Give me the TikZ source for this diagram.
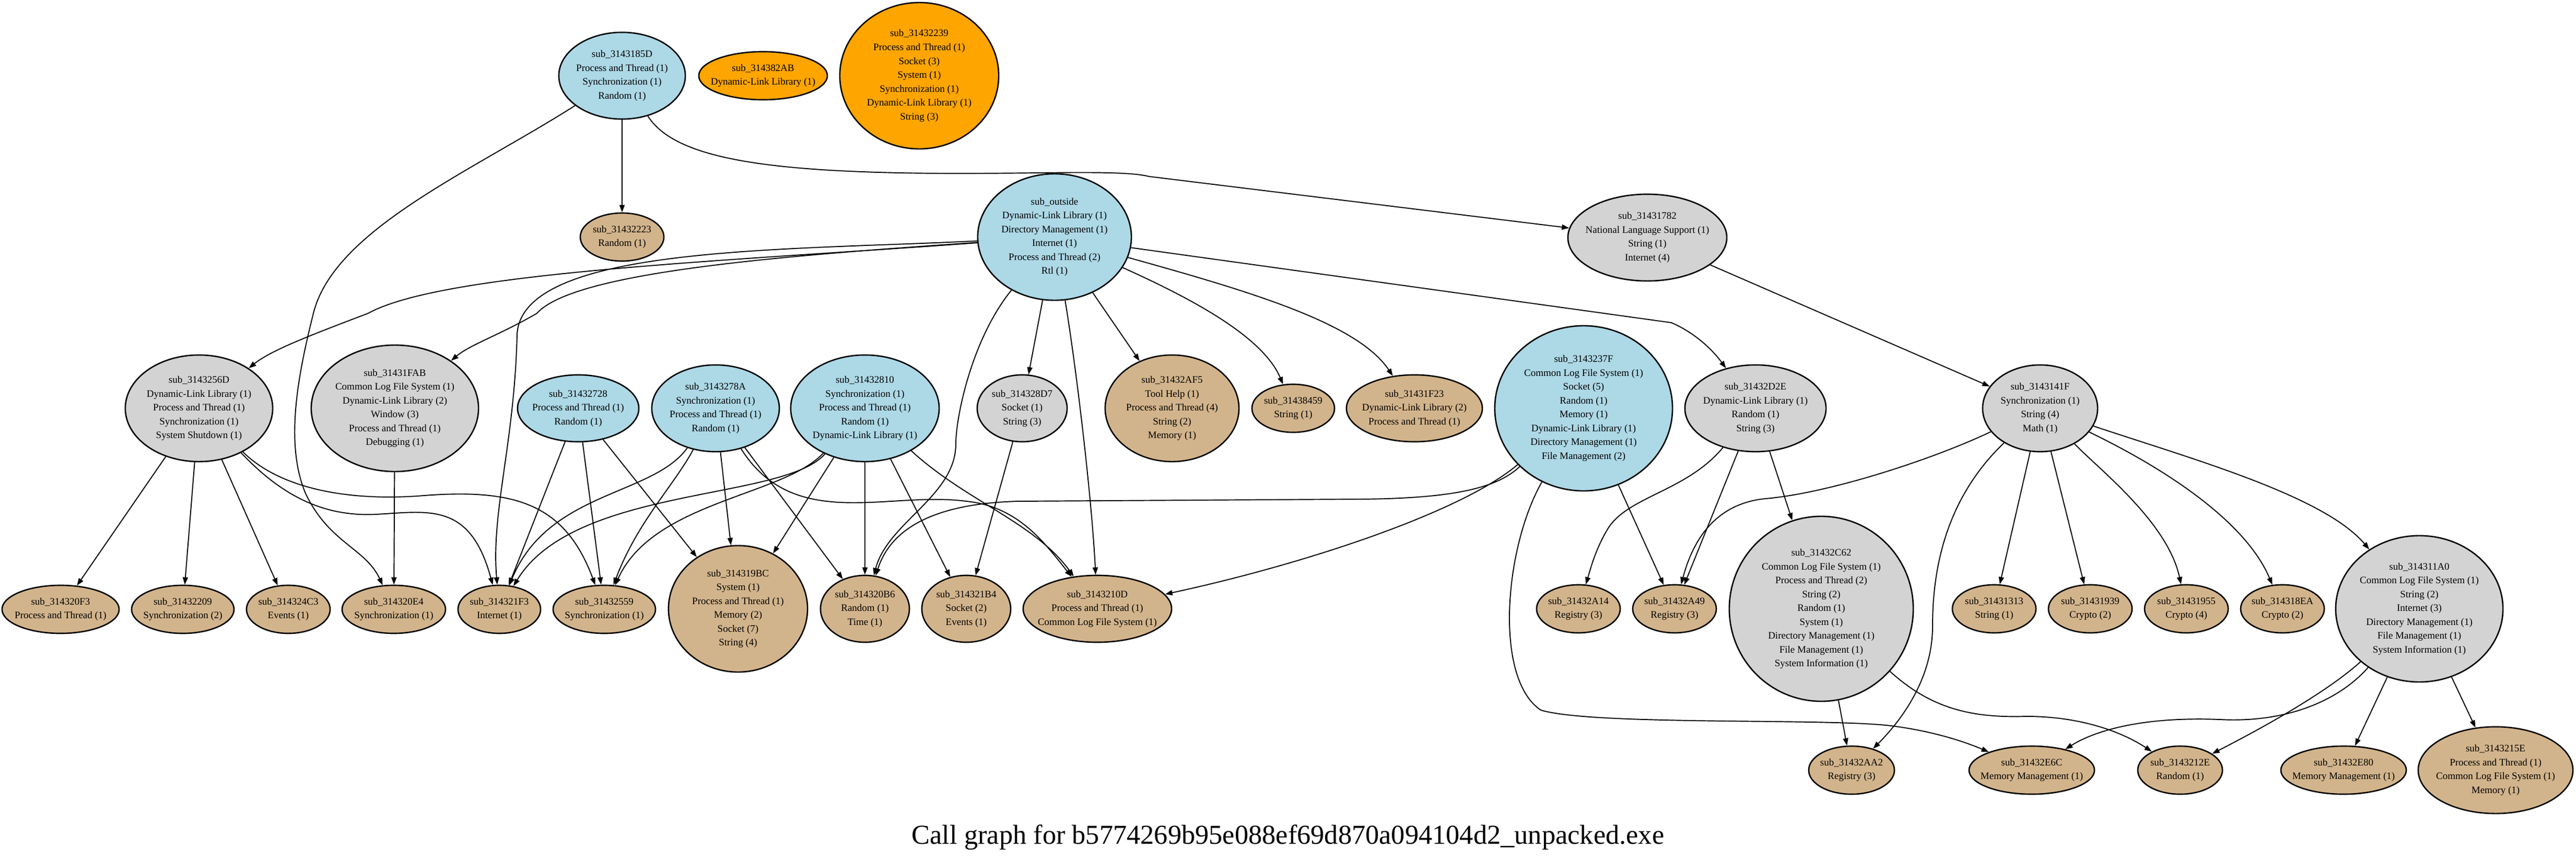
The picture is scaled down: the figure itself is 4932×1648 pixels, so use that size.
\documentclass[tikz,border=0pt]{standalone}
\usepackage{fontspec}
\setmainfont{Liberation Serif}
\usetikzlibrary{shapes.geometric,arrows.meta}
\definecolor{cblue}{HTML}{ADD8E6}
\definecolor{cgray}{HTML}{D3D3D3}
\definecolor{ctan}{HTML}{D2B48C}
\definecolor{corange}{HTML}{FFA500}
\tikzset{
 gn/.style={ellipse, draw=black, line width=0.75pt, inner sep=0pt},
 lbl/.style={align=center, inner sep=0pt, font=\fontsize{5.4pt}{7.54pt}\selectfont},
 cx/.style={draw=black, line width=0.55pt, -{Triangle[length=0.14cm,width=0.1cm]}},
}
\newcommand\gnode[7]{\node[gn,fill=#6,minimum width=#4*0.02cm,minimum height=#5*0.02cm,label={[lbl]center:{#7}}] (#1) at (#2,#3) {};}
\begin{document}
\begin{tikzpicture}[x=0.01cm,y=-0.01cm]
\useasboundingbox (0,0) rectangle (4932,1648);
\fill[white] (0,0) rectangle (4932,1648);
% top row
\gnode{n185D}{1191}{145}{121}{83}{cblue}{sub\_3143185D\\Process and Thread (1)\\Synchronization (1)\\Random (1)}
\gnode{n82AB}{1461}{145}{123}{46}{corange}{sub\_314382AB\\Dynamic-Link Library (1)}
\gnode{n2239}{1760}{145}{152}{140}{corange}{sub\_31432239\\Process and Thread (1)\\Socket (3)\\System (1)\\Synchronization (1)\\Dynamic-Link Library (1)\\String (3)}
\gnode{n2223}{1191}{454}{80}{46}{ctan}{sub\_31432223\\Random (1)}
\gnode{nout}{2019}{454}{147}{121}{cblue}{sub\_outside\\Dynamic-Link Library (1)\\Directory Management (1)\\Internet (1)\\Process and Thread (2)\\Rtl (1)}
\gnode{n1782}{3154}{455}{152}{83}{cgray}{sub\_31431782\\National Language Support (1)\\String (1)\\Internet (4)}
% middle row
\gnode{n256D}{381}{782}{141}{102}{cgray}{sub\_3143256D\\Dynamic-Link Library (1)\\Process and Thread (1)\\Synchronization (1)\\System Shutdown (1)}
\gnode{nFAB}{756}{782}{160}{121}{cgray}{sub\_31431FAB\\Common Log File System (1)\\Dynamic-Link Library (2)\\Window (3)\\Process and Thread (1)\\Debugging (1)}
\gnode{n2728}{1107}{782}{116}{64}{cblue}{sub\_31432728\\Process and Thread (1)\\Random (1)}
\gnode{n278A}{1370}{782}{122}{83}{cblue}{sub\_3143278A\\Synchronization (1)\\Process and Thread (1)\\Random (1)}
\gnode{n2810}{1656}{782}{142}{102}{cblue}{sub\_31432810\\Synchronization (1)\\Process and Thread (1)\\Random (1)\\Dynamic-Link Library (1)}
\gnode{n28D7}{1957}{782}{86}{64}{cgray}{sub\_314328D7\\Socket (1)\\String (3)}
\gnode{nAF5}{2244}{782}{128}{102}{ctan}{sub\_31432AF5\\Tool Help (1)\\Process and Thread (4)\\String (2)\\Memory (1)}
\gnode{n8459}{2476}{782}{79}{46}{ctan}{sub\_31438459\\String (1)}
\gnode{nF23}{2708}{782}{130}{64}{ctan}{sub\_31431F23\\Dynamic-Link Library (2)\\Process and Thread (1)}
\gnode{n237F}{3032}{782}{170}{158}{cblue}{sub\_3143237F\\Common Log File System (1)\\Socket (5)\\Random (1)\\Memory (1)\\Dynamic-Link Library (1)\\Directory Management (1)\\File Management (2)}
\gnode{nD2E}{3361}{782}{135}{83}{cgray}{sub\_31432D2E\\Dynamic-Link Library (1)\\Random (1)\\String (3)}
\gnode{n141F}{3906}{782}{110}{83}{cgray}{sub\_3143141F\\Synchronization (1)\\String (4)\\Math (1)}
% lower row
\gnode{n20F3}{116}{1167}{112}{46}{ctan}{sub\_314320F3\\Process and Thread (1)}
\gnode{n2209}{350}{1167}{98}{46}{ctan}{sub\_31432209\\Synchronization (2)}
\gnode{n24C3}{552}{1167}{80}{46}{ctan}{sub\_314324C3\\Events (1)}
\gnode{n20E4}{754}{1167}{99}{46}{ctan}{sub\_314320E4\\Synchronization (1)}
\gnode{n21F3}{956}{1167}{79}{46}{ctan}{sub\_314321F3\\Internet (1)}
\gnode{n2559}{1157}{1167}{98}{46}{ctan}{sub\_31432559\\Synchronization (1)}
\gnode{n19BC}{1413}{1166}{133}{121}{ctan}{sub\_314319BC\\System (1)\\Process and Thread (1)\\Memory (2)\\Socket (7)\\String (4)}
\gnode{n20B6}{1656}{1166}{85}{64}{ctan}{sub\_314320B6\\Random (1)\\Time (1)}
\gnode{n21B4}{1850}{1166}{85}{64}{ctan}{sub\_314321B4\\Socket (2)\\Events (1)}
\gnode{n210D}{2101}{1166}{142}{64}{ctan}{sub\_3143210D\\Process and Thread (1)\\Common Log File System (1)}
\gnode{nA14}{3022}{1166}{80}{46}{ctan}{sub\_31432A14\\Registry (3)}
\gnode{nA49}{3206}{1166}{80}{46}{ctan}{sub\_31432A49\\Registry (3)}
\gnode{nC62}{3487}{1166}{176}{177}{cgray}{sub\_31432C62\\Common Log File System (1)\\Process and Thread (2)\\String (2)\\Random (1)\\System (1)\\Directory Management (1)\\File Management (1)\\System Information (1)}
\gnode{n1313}{3818}{1166}{80}{46}{ctan}{sub\_31431313\\String (1)}
\gnode{n1939}{4002}{1166}{80}{46}{ctan}{sub\_31431939\\Crypto (2)}
\gnode{n1955}{4186}{1166}{80}{46}{ctan}{sub\_31431955\\Crypto (4)}
\gnode{n18EA}{4370}{1166}{80}{46}{ctan}{sub\_314318EA\\Crypto (2)}
\gnode{n11A0}{4632}{1166}{160}{140}{cgray}{sub\_314311A0\\Common Log File System (1)\\String (2)\\Internet (3)\\Directory Management (1)\\File Management (1)\\System Information (1)}
% bottom row
\gnode{nAA2}{3545}{1475}{82}{46}{ctan}{sub\_31432AA2\\Registry (3)}
\gnode{nE6C}{3890}{1475}{120}{46}{ctan}{sub\_31432E6C\\Memory Management (1)}
\gnode{n212E}{4174}{1475}{81}{46}{ctan}{sub\_3143212E\\Random (1)}
\gnode{nE80}{4487}{1475}{120}{46}{ctan}{sub\_31432E80\\Memory Management (1)}
\gnode{n215E}{4778}{1475}{148}{83}{ctan}{sub\_3143215E\\Process and Thread (1)\\Common Log File System (1)\\Memory (1)}
% title
\node (title) at (2466,1604) {\fontsize{14.9pt}{18pt}\selectfont Call graph for b5774269b95e088ef69d870a094104d2\_unpacked.exe};
% edges from 3143185D
\draw[cx] (n185D) -- (n2223);
\draw[cx] (n185D) .. controls (1290,300) and (1450,330) .. (1800,332) .. controls (2000,333) and (2150,325) .. (2200,338) -- (n1782);
\draw[cx] (n185D) .. controls (900,330) and (640,440) .. (600,600) .. controls (570,720) and (545,850) .. (585,945) .. controls (630,1040) and (700,1050) .. (n20E4);
% edges from sub_outside
\draw[cx] (nout) .. controls (1400,500) and (850,520) .. (705,600) .. controls (600,640) and (520,670) .. (n256D);
\draw[cx] (nout) .. controls (1500,490) and (1100,520) .. (1028,600) .. controls (960,640) and (900,660) .. (nFAB);
\draw[cx] (nout) .. controls (1500,480) and (1000,470) .. (990,640) .. controls (985,850) and (940,980) .. (n21F3);
\draw[cx] (nout) -- (n28D7);
\draw[cx] (nout) -- (nAF5);
\draw[cx] (nout) .. controls (2300,580) and (2420,650) .. (n8459);
\draw[cx] (nout) .. controls (2400,560) and (2600,620) .. (nF23);
\draw[cx] (nout) -- (3200,618) .. controls (3240,635) and (3275,665) .. (nD2E);
\draw[cx] (nout) .. controls (1860,650) and (1830,800) .. (1830,850) .. controls (1830,950) and (1700,1000) .. (n20B6);
\draw[cx] (nout) .. controls (2060,700) and (2090,950) .. (n210D);
% edges from 3143256D
\draw[cx] (n256D) -- (n20F3);
\draw[cx] (n256D) -- (n2209);
\draw[cx] (n256D) -- (n24C3);
\draw[cx] (n256D) .. controls (540,950) and (620,990) .. (720,985) .. controls (820,980) and (900,960) .. (n21F3);
\draw[cx] (n256D) .. controls (530,930) and (650,960) .. (800,950) .. controls (980,935) and (1080,960) .. (n2559);
% 31431FAB
\draw[cx] (nFAB) -- (n20E4);
% 31432728
\draw[cx] (n2728) -- (n21F3);
\draw[cx] (n2728) -- (n2559);
\draw[cx] (n2728) -- (n19BC);
% 3143278A
\draw[cx] (n278A) -- (n19BC);
\draw[cx] (n278A) -- (n20B6);
\draw[cx] (n278A) .. controls (1250,950) and (1050,940) .. (n21F3);
\draw[cx] (n278A) .. controls (1290,930) and (1220,1000) .. (n2559);
\draw[cx] (n278A) .. controls (1520,1020) and (1700,940) .. (1850,960) .. controls (1950,970) and (2000,1040) .. (n210D);
% 31432810
\draw[cx] (n2810) -- (n19BC);
\draw[cx] (n2810) -- (n20B6);
\draw[cx] (n2810) -- (n21B4);
\draw[cx] (n2810) .. controls (1850,960) and (1980,1000) .. (n210D);
\draw[cx] (n2810) .. controls (1500,960) and (1100,930) .. (n21F3);
\draw[cx] (n2810) .. controls (1500,950) and (1250,960) .. (n2559);
% 314328D7
\draw[cx] (n28D7) -- (n21B4);
% 3143237F
\draw[cx] (n237F) .. controls (2800,980) and (2500,1080) .. (n210D);
\draw[cx] (n237F) .. controls (2870,930) and (2800,955) .. (2600,956) -- (1950,960) .. controls (1760,965) and (1700,1030) .. (n20B6);
\draw[cx] (n237F) -- (nA49);
\draw[cx] (n237F) .. controls (2880,1050) and (2860,1300) .. (2950,1360) .. controls (3050,1390) and (3500,1375) .. (3620,1390) .. controls (3700,1400) and (3760,1420) .. (nE6C);
% 31431782
\draw[cx] (n1782) -- (n141F);
% 31432D2E
\draw[cx] (nD2E) .. controls (3230,940) and (3120,950) .. (3080,1010) .. controls (3055,1050) and (3045,1090) .. (nA14);
\draw[cx] (nD2E) -- (nA49);
\draw[cx] (nD2E) -- (nC62);
% 3143141F
\draw[cx] (n141F) .. controls (3700,880) and (3500,945) .. (3380,955) .. controls (3280,965) and (3240,1040) .. (nA49);
\draw[cx] (n141F) .. controls (3720,960) and (3700,1100) .. (3700,1200) .. controls (3700,1300) and (3640,1380) .. (nAA2);
\draw[cx] (n141F) -- (n1313);
\draw[cx] (n141F) -- (n1939);
\draw[cx] (n141F) .. controls (4020,900) and (4150,1000) .. (n1955);
\draw[cx] (n141F) .. controls (4150,900) and (4300,1000) .. (n18EA);
\draw[cx] (n141F) .. controls (4200,880) and (4450,950) .. (n11A0);
% 31432C62
\draw[cx] (nC62) -- (nAA2);
\draw[cx] (nC62) .. controls (3700,1360) and (3780,1375) .. (3880,1372) .. controls (3980,1372) and (4060,1400) .. (n212E);
% 314311A0
\draw[cx] (n11A0) .. controls (4480,1340) and (4380,1385) .. (4250,1378) .. controls (4100,1372) and (4010,1400) .. (nE6C);
\draw[cx] (n11A0) .. controls (4450,1330) and (4320,1400) .. (n212E);
\draw[cx] (n11A0) -- (nE80);
\draw[cx] (n11A0) -- (n215E);
\end{tikzpicture}
\end{document}
